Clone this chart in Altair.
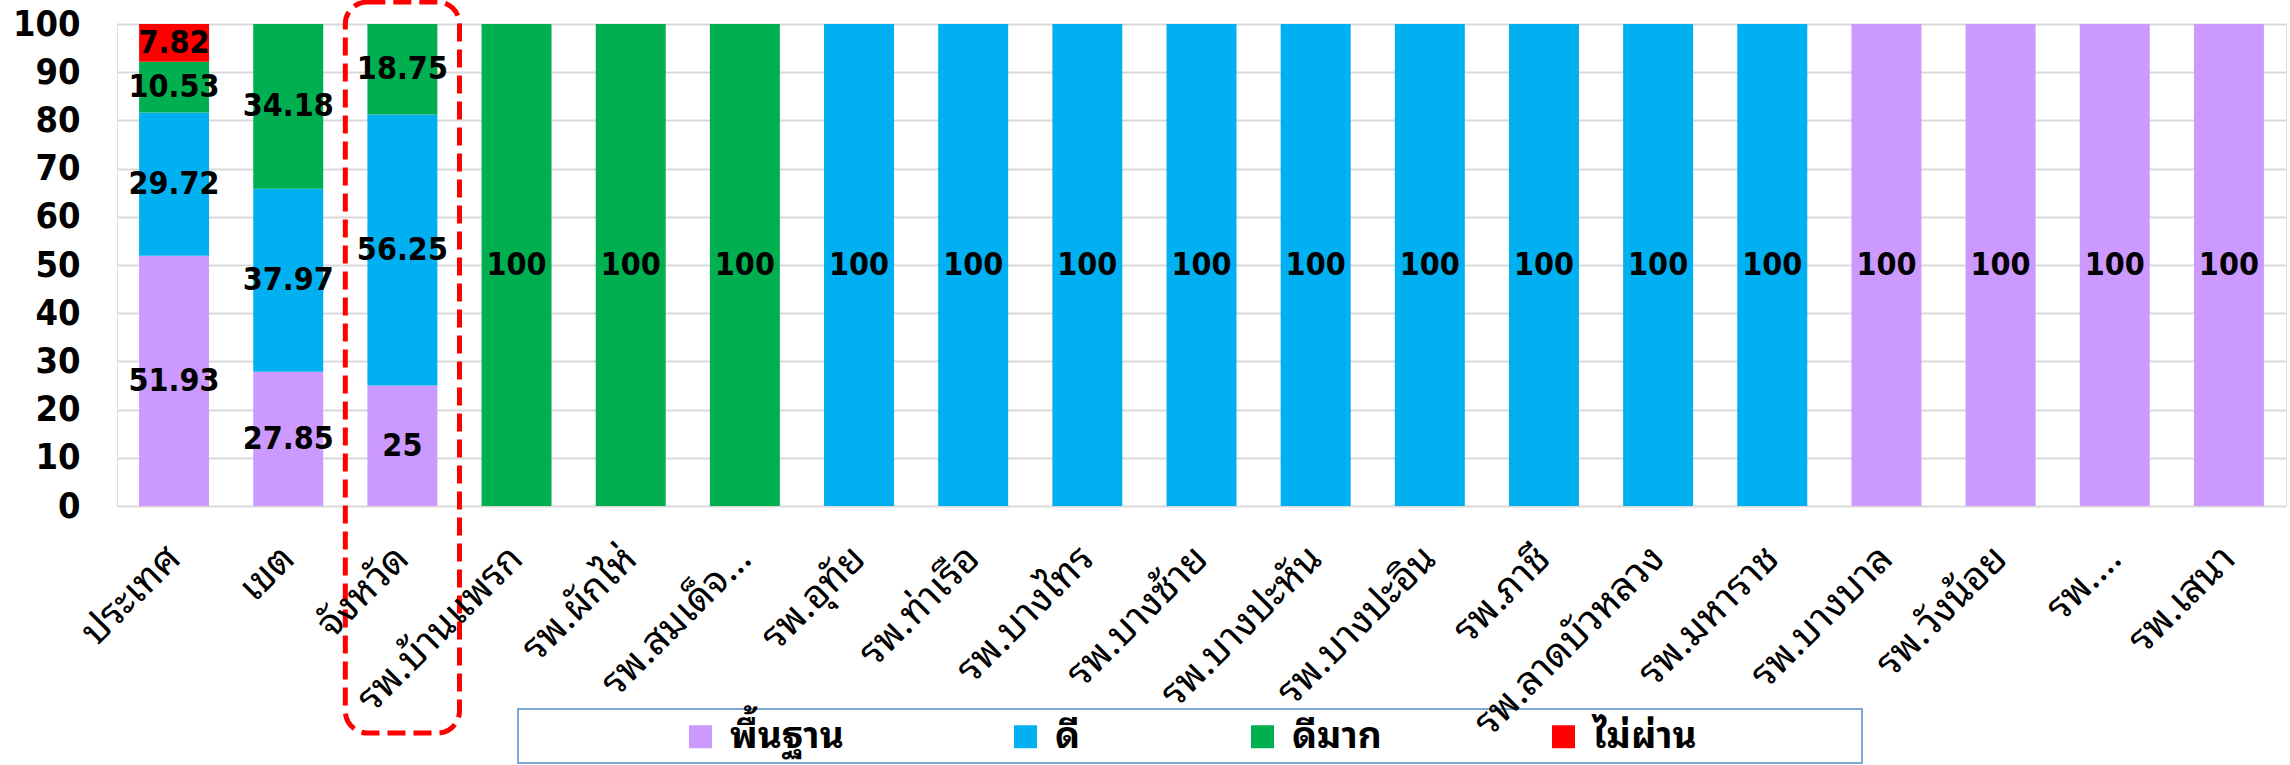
import altair as alt
import pandas as pd

categories = ["ประเทศ", "เขต", "จังหวัด", "รพ.บ้านแพรก", "รพ.ผักไห่", "รพ.สมเด็จ…",
              "รพ.อุทัย", "รพ.ท่าเรือ", "รพ.บางไทร", "รพ.บางซ้าย", "รพ.บางปะหัน",
              "รพ.บางปะอิน", "รพ.ภาชี", "รพ.ลาดบัวหลวง", "รพ.มหาราช", "รพ.บางบาล",
              "รพ.วังน้อย", "รพ.…", "รพ.เสนา"]
series = ["พื้นฐาน", "ดี", "ดีมาก", "ไม่ผ่าน"]
colors = ["#CC99FF", "#00B0F0", "#00B050", "#FF0000"]

basic = [51.93, 27.85, 25, 0, 0, 0, 0, 0, 0, 0, 0, 0, 0, 0, 0, 100, 100, 100, 100]
good = [29.72, 37.97, 56.25, 0, 0, 0, 100, 100, 100, 100, 100, 100, 100, 100, 100, 0, 0, 0, 0]
very_good = [10.53, 34.18, 18.75, 100, 100, 100, 0, 0, 0, 0, 0, 0, 0, 0, 0, 0, 0, 0, 0]
failed = [7.82, 0, 0, 0, 0, 0, 0, 0, 0, 0, 0, 0, 0, 0, 0, 0, 0, 0, 0]

rows = []
for s_i, (name, vals) in enumerate(zip(series, [basic, good, very_good, failed])):
    for c, v in zip(categories, vals):
        if v > 0:
            rows.append({"cat": c, "series": name, "value": v, "order": s_i})
df = pd.DataFrame(rows)

NUM_FONT = "DejaVu Sans Condensed"
THAI_FONT = "Tahoma, 'Noto Sans Thai Looped', 'Noto Sans Thai', 'Noto Sans', sans-serif"

x_scale = alt.Scale(domain=categories, paddingInner=0.387, paddingOuter=0.1935)
y_scale = alt.Scale(domain=[0, 100], nice=False)

base = alt.Chart(df)

bars = base.mark_bar(strokeWidth=0).encode(
    x=alt.X("cat:N", scale=x_scale, sort=categories,
            axis=alt.Axis(title=None, labelAngle=-45, labelAlign="right", labelBaseline="middle",
                          labelFont=THAI_FONT, labelFontSize=39, labelColor="black",
                          labelPadding=46, ticks=False, domain=False, grid=False,
                          labelLimit=400, zindex=2)),
    y=alt.Y("value:Q", scale=y_scale, stack="zero",
            axis=alt.Axis(title=None, values=list(range(0, 101, 10)), labelFont=NUM_FONT,
                          labelFontSize=36, labelFontWeight="bold", labelColor="black",
                          labelPadding=37, ticks=False, domain=False,
                          gridColor="#D9D9D9", gridWidth=2)),
    color=alt.Color("series:N", scale=alt.Scale(domain=series, range=colors),
                    legend=alt.Legend(title=None, orient="none", direction="horizontal",
                                      legendX=565, legendY=694, symbolType="square",
                                      symbolSize=529, symbolStrokeWidth=0, labelFont=THAI_FONT,
                                      labelFontSize=37, labelFontWeight="bold",
                                      labelColor="black", columnPadding=163, labelOffset=11,
                                      padding=0, labelLimit=400)),
    order=alt.Order("order:Q"),
)

labels = base.transform_stack(
    stack="value", groupby=["cat"], as_=["y0", "y1"], sort=[alt.SortField("order")]
).transform_calculate(
    mid="(datum.y0 + datum.y1) / 2"
).mark_text(font=NUM_FONT, fontSize=32, fontWeight="bold", color="black").encode(
    x=alt.X("cat:N", scale=x_scale, sort=categories),
    y=alt.Y("mid:Q", scale=y_scale),
    text=alt.Text("value:Q"),
)

main = alt.layer(bars, labels)

legend_box = alt.Chart(pd.DataFrame({"k": [0]})).mark_rect(
    fill="white", stroke="#7FA7D6", strokeWidth=2
).encode(x=alt.value(401), x2=alt.value(1745), y=alt.value(685), y2=alt.value(739))

highlight = alt.Chart(pd.DataFrame({"cat": ["จังหวัด"]})).mark_rect(
    fill=None, stroke="#FF0000", strokeWidth=5, strokeDash=[18, 8], cornerRadius=22
).encode(
    x=alt.X("cat:N", scale=alt.Scale(domain=categories, paddingInner=0, paddingOuter=0),
            sort=categories, axis=None),
    y=alt.value(-22),
    y2=alt.value(709),
)

chart = alt.layer(legend_box, main, highlight).resolve_scale(x="independent").properties(
    width=2169, height=482,
    autosize=alt.AutoSizeParams(type="none"),
    padding={"left": 117, "top": 24, "right": 4, "bottom": 259},
).configure_view(stroke=None).configure(background="white")

chart.save("out.html", embed_options={"renderer": "svg", "actions": False})
